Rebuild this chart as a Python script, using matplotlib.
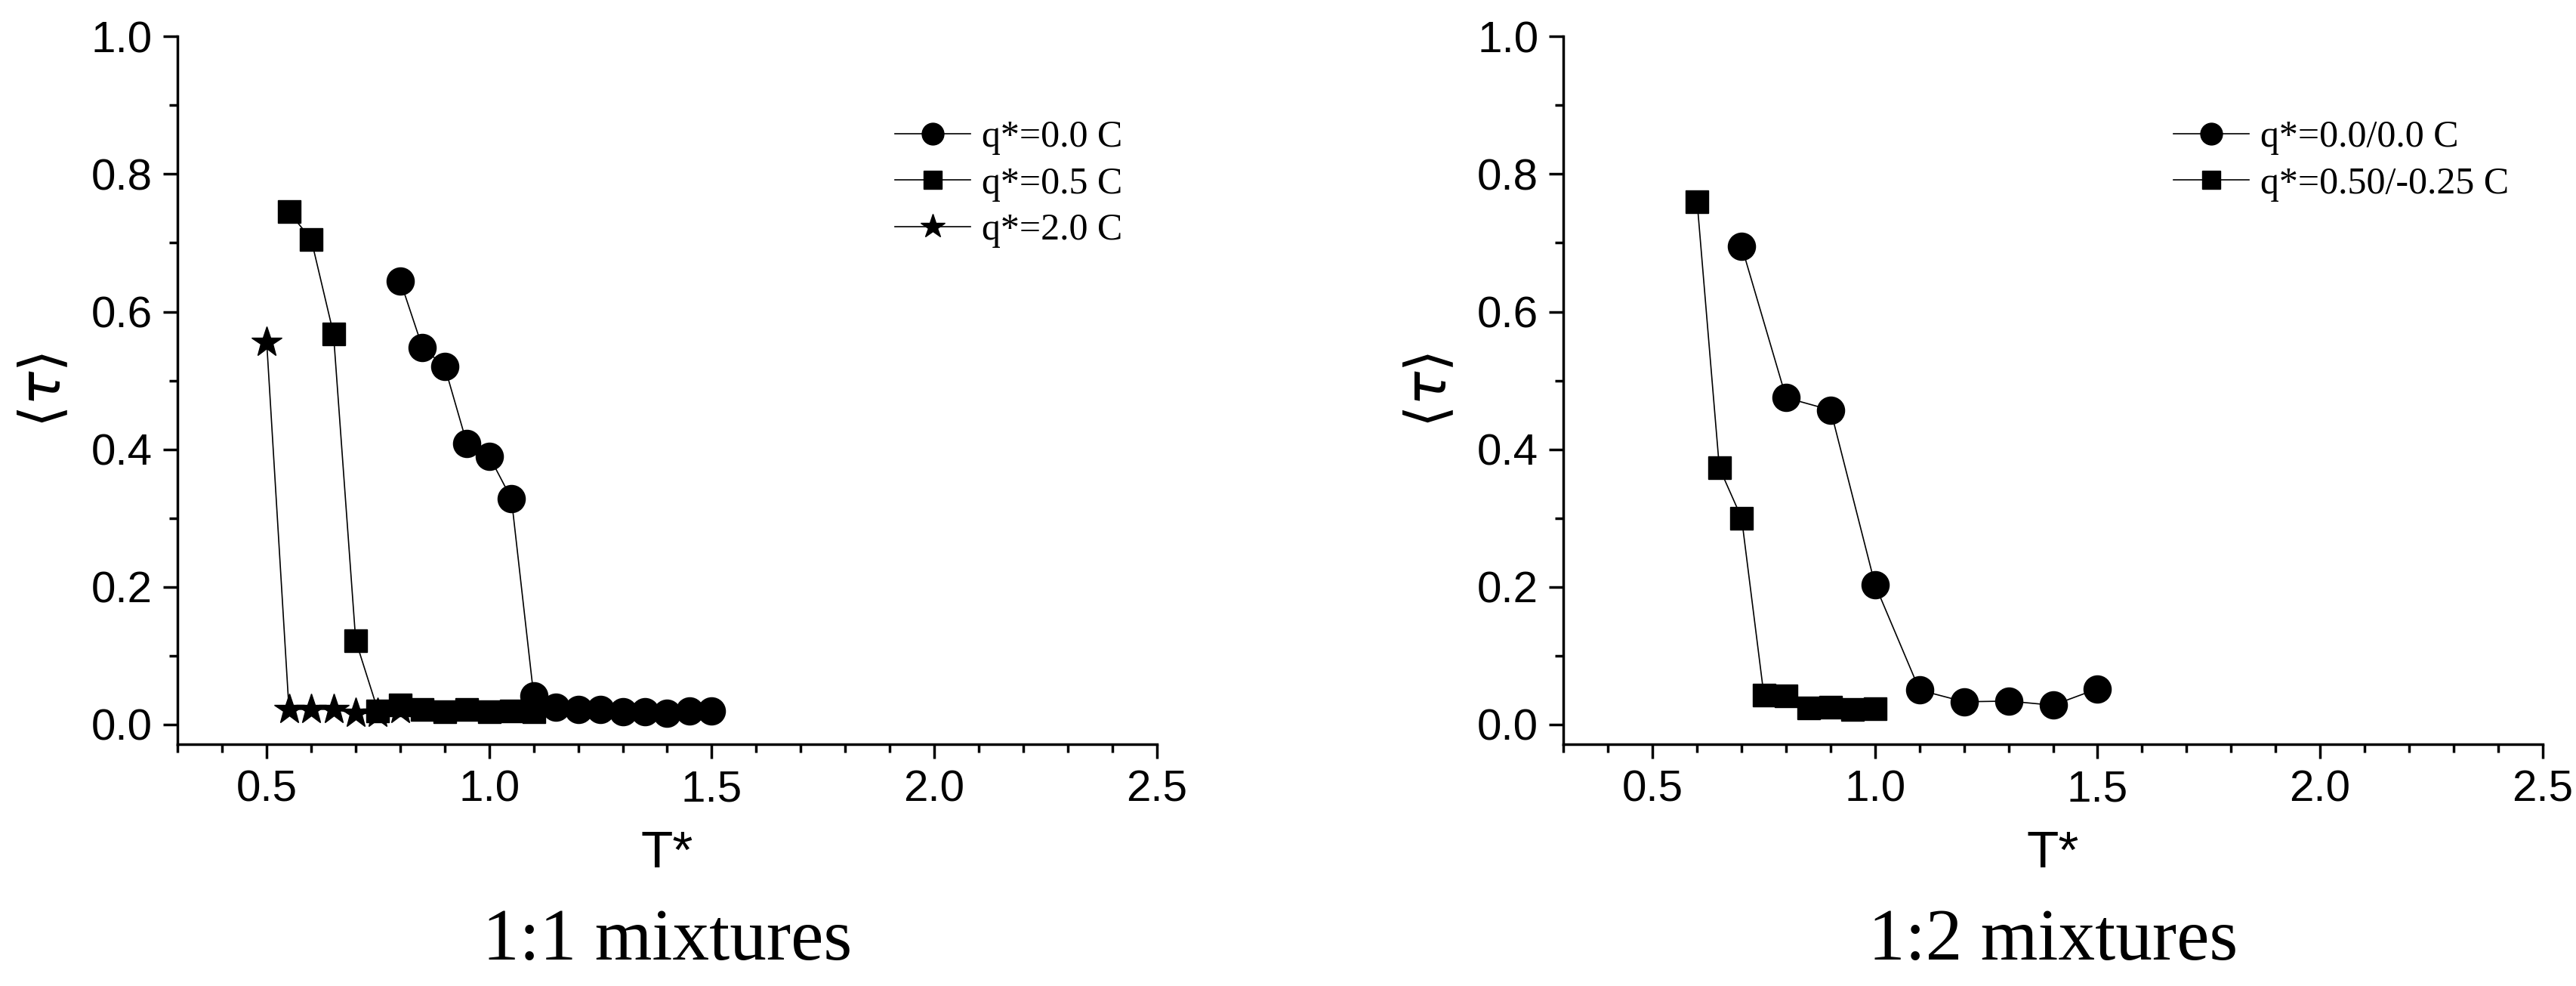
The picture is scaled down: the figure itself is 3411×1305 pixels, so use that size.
import numpy as np
import matplotlib.pyplot as plt
from matplotlib.ticker import MultipleLocator

# 1:1 mixtures
t_q00 = [0.8, 0.85, 0.9, 0.95, 1.0, 1.05, 1.1, 1.15, 1.2, 1.25, 1.3, 1.35, 1.4, 1.45, 1.5]
tau_q00 = [0.645, 0.548, 0.52, 0.408, 0.39, 0.328, 0.042, 0.025, 0.022, 0.022, 0.018, 0.018, 0.016, 0.02, 0.02]
t_q05 = [0.55, 0.6, 0.65, 0.7, 0.75, 0.8, 0.85, 0.9, 0.95, 1.0, 1.05, 1.1]
tau_q05 = [0.745, 0.705, 0.568, 0.122, 0.02, 0.028, 0.022, 0.018, 0.022, 0.018, 0.02, 0.018]
t_q20 = [0.5, 0.55, 0.6, 0.65, 0.7, 0.75, 0.8]
tau_q20 = [0.555, 0.022, 0.022, 0.022, 0.016, 0.016, 0.022]

# 1:2 mixtures
t2_q00 = [0.7, 0.8, 0.9, 1.0, 1.1, 1.2, 1.3, 1.4, 1.5]
tau2_q00 = [0.695, 0.475, 0.457, 0.203, 0.05, 0.033, 0.034, 0.028, 0.052]
t2_q05 = [0.6, 0.65, 0.7, 0.75, 0.8, 0.85, 0.9, 0.95, 1.0]
tau2_q05 = [0.76, 0.373, 0.3, 0.043, 0.042, 0.024, 0.025, 0.022, 0.023]

serif = "Liberation Serif"
sans = "Liberation Sans"

fig = plt.figure(figsize=(34.11, 13.05), dpi=100)
ax1 = fig.add_axes([0.069, 0.245, 0.380, 0.718])
ax2 = fig.add_axes([0.607, 0.245, 0.380, 0.718])

def style(ax, caption):
	ax.set_xlim(0.3, 2.5)
	ax.set_ylim(-0.029, 1.0)
	ax.spines["top"].set_visible(False)
	ax.spines["right"].set_visible(False)
	ax.spines["left"].set_linewidth(2.5)
	ax.spines["bottom"].set_linewidth(2.5)
	ax.xaxis.set_major_locator(MultipleLocator(0.5))
	ax.xaxis.set_minor_locator(MultipleLocator(0.1))
	ax.yaxis.set_major_locator(MultipleLocator(0.2))
	ax.yaxis.set_minor_locator(MultipleLocator(0.1))
	ax.tick_params(which="major", direction="out", length=14, width=2.5, labelsize=42, pad=10)
	ax.tick_params(which="minor", direction="out", length=8, width=2.5)
	for lab in ax.get_xticklabels() + ax.get_yticklabels():
		lab.set_fontfamily(sans)
	ax.set_xlabel("T*", fontsize=50, family=sans, labelpad=18)
	ax.set_ylabel(r"$\langle\tau\rangle$", fontsize=54, labelpad=18)
	bb = ax.get_position()
	fig.text((bb.x0 + bb.x1) / 2, 0.045, caption, ha="center", va="center",
		fontsize=70, family=serif)
	ax.legend(loc="upper right", bbox_to_anchor=(1.0, 0.93), frameon=False,
		prop={"family": serif, "size": 36}, handlelength=2.0, handletextpad=0.3,
		labelspacing=0.3, markerscale=0.8)

kw = dict(color="black", lw=1.2, markersize=26)
ax1.plot(t_q00, tau_q00, marker="o", label="q*=0.0 C", **kw)
ax1.plot(t_q05, tau_q05, marker="s", label="q*=0.5 C", markersize=22, color="black", lw=1.2)
ax1.plot(t_q20, tau_q20, marker="*", label="q*=2.0 C", color="black", lw=1.2, markersize=30)
style(ax1, "1:1 mixtures")

ax2.plot(t2_q00, tau2_q00, marker="o", label="q*=0.0/0.0 C", **kw)
ax2.plot(t2_q05, tau2_q05, marker="s", label="q*=0.50/-0.25 C", markersize=22, color="black", lw=1.2)
style(ax2, "1:2 mixtures")

plt.savefig("out.png", dpi=100)
